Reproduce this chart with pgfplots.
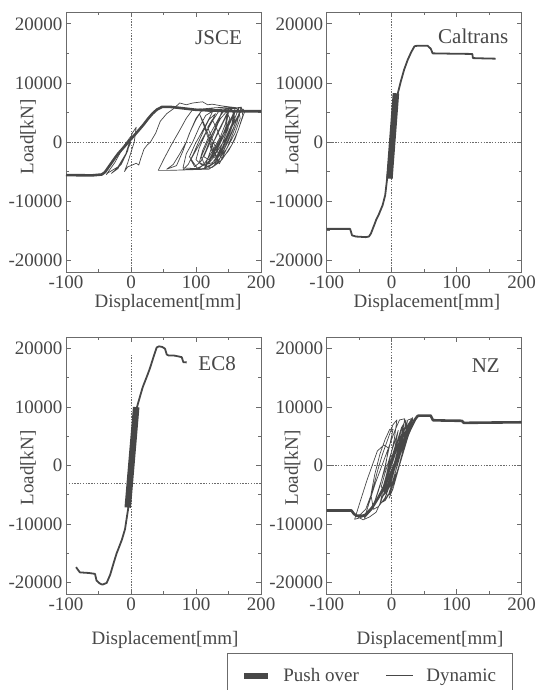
\documentclass[border=0pt]{standalone}
\usepackage{pgfplots}
\pgfplotsset{compat=1.18}
\usepackage{fontspec}
\setmainfont{Liberation Serif}
\definecolor{ink}{gray}{0.28}
\definecolor{axc}{gray}{0.42}
\tikzset{tag/.style={font=\fontsize{21}{24}\selectfont, text=ink, anchor=east}}
\pgfplotsset{
  panel/.style={
    scale only axis, width=195pt,
    xmin=-100, xmax=200, ymin=-22000, ymax=22000,
    xtick={-100,0,100,200}, ytick={-20000,-10000,0,10000,20000},
    minor xtick={-50,50,150}, minor ytick={-15000,-5000,5000,15000},
    tick align=inside, major tick length=5pt, minor tick length=3pt,
    scaled y ticks=false, scaled x ticks=false,
    /pgf/number format/1000 sep={},
    /pgf/number format/assume math mode=true,
    tick label style={font=\fontsize{19}{22}\selectfont, text=ink},
    label style={font=\fontsize{19}{22}\selectfont, text=ink},
    axis line style={axc, line width=0.9pt},
    every tick/.style={axc, line width=0.8pt},
    xlabel={Displacement[mm]}, ylabel={Load[kN]},
    clip=true,
  },
  zline/.style={axc, line width=0.6pt, dash pattern=on 1.4pt off 1.4pt, forget plot},
  push/.style={ink, line width=2.6pt, line join=round, forget plot},
  band/.style={ink, line width=6.5pt, forget plot},
  dyn/.style={ink, line width=0.7pt, line join=round, forget plot},
}
\begin{document}
\begin{tikzpicture}[x=1pt,y=1pt]
\useasboundingbox (0,0) rectangle (539,690);

% ---------------- JSCE ----------------
\begin{axis}[panel, height=260pt, at={(66pt,418pt)}, anchor=south west,
  xlabel style={inner sep=0pt, anchor=north, at={(axis description cs:0.523,-0.085)}},
  ylabel style={anchor=center, at={(axis description cs:-0.195,0.519)}}]
\addplot[zline] coordinates {(-100,0) (200,0)};
\addplot[zline] coordinates {(0,-22000) (0,22000)};
\addplot[dyn] coordinates {
(0,0) (-8,-2000) (-20,-4200) (-35,-5200) (-38,-5500) (-25,-3500) (-10,-500) (0,1000)
(-5,-1500) (-15,-3800) (-30,-5300) (-20,-4500) (-8,-2000) (2,1500) (8,2500) (5,0)
(-5,-3500) (-10,-5000) (-5,-4200) (0,-4000) (8,-3600) (12,-3900) (15,-2800) (20,-1200)
(25,-500) (30,0) (38,1500) (45,3500) (55,4800) (65,5600) (75,6600) (85,6300) (95,6600)
(110,6800) (118,6300) (125,6400) (140,6100) (155,5900) (170,5700) (172,4500) (165,2000)
(155,-500) (140,-3000) (120,-4600) (90,-4700) (60,-4800) (42,-4800) (50,-3000) (62,-500)
(75,2000) (85,4000) (95,5500) (110,5600) (130,5800) (150,5900) (160,5600) (155,3000)
(145,500) (130,-2000) (115,-3800) (100,-4500) (80,-4400) (85,-2000) (95,0) (105,2500)
(115,4500) (130,5500) (150,5700) (165,5800) (168,4000) (160,1500) (148,-1000) (135,-3000)
(120,-4200) (105,-3500) (110,-1500) (120,1000) (130,3000) (140,5000) (155,5500) (160,4000)
(152,1500) (140,-1500) (125,-3500) (110,-4000) (100,-3000) (105,-1000) (115,1500)
(125,3500) (135,5200) (150,5600) (170,5900) (165,4500) (155,2500) (145,0) (135,-2000)
(128,-3500) (115,-4300) (108,-2500) (118,0) (128,2000) (138,4000) (150,5500) (145,3000)
(138,1000) (128,-1000) (120,-2500) (112,-3800) (103,-4600) (90,-2500) (98,-500) (108,1500)
(118,3500) (125,5000) (110,5500) (100,4000) (92,2000) (85,0) (75,-2000) (65,-3800)
(55,-4600) (70,-4000) (80,-1500) (90,1500) (100,3800) (108,5200) (122,5600) (140,5400)
(135,3500) (128,1500) (120,-500) (112,-2500) (120,-3000) (130,-1000) (140,1000) (150,3000)
(158,5000) (165,5500) (158,3500) (150,1500) (142,-500) (135,-2500) (142,-1500) (150,500)
(158,2500) (165,4500) (172,5600) (175,5200) (168,3000) (160,500) (150,-1500) (140,-2800)
(132,-1500) (125,500) (118,2500) (125,3800) (132,2200) (138,500) (145,2000) (152,4000)
(145,5600) (138,4500) (130,2500) (122,500) (115,-1500) (108,-3200) (98,-4200) (92,-3000)
(102,-1000) (112,1000) (122,3000) (130,4800) (120,3800) (112,2000) (104,0) (96,-2000)
(88,-3800) (80,-4700) (95,-4600) (110,-4500) (125,-4300) (135,-3500) (128,-2500) (122,-800)
(130,600) (137,2200) (144,3800) (150,5000) (146,2600) (140,800) (133,-800) (126,-2200)
(119,-3600) (126,-2800) (133,-1200) (140,400) (147,2000) (154,3600) (160,5200) (156,3000)
(149,1000) (142,-800) (135,-2400) (128,-4000) (135,-3200) (142,-1600) (149,0) (156,1800)
(162,3600) (168,5400) (163,3200) (156,1200) (149,-700) (142,-2300) (136,-3700) (130,-2000)
(124,-200) (118,1500) (112,3200) (106,4600) (112,2800) (118,900) (124,-900) (131,-2600)
(138,-1000) (144,800) (150,2400) (142,1400) (134,-400) (127,-1800) (120,-3300) (113,-4400)
(120,-2200) (127,0) (134,1800) (141,3300) (147,4700) (153,5600) (160,5700) (166,5500)
};
\addplot[push] coordinates {
(-100,-5600) (-60,-5650) (-45,-5500) (-40,-5100) (-33,-4000) (-26,-2900) (-20,-2000)
(-12,-1000) (-4,0) (4,1000) (12,2000) (19,2900) (26,3900) (33,4800) (40,5500) (48,5950)
(60,5950) (80,5700) (100,5450) (130,5300) (160,5200) (200,5200)};
\node[tag] at (axis cs:176,17600) {JSCE};
\end{axis}

% ---------------- Caltrans ----------------
\begin{axis}[panel, height=260pt, at={(326.7pt,418pt)}, anchor=south west,
  xlabel style={inner sep=0pt, anchor=north, at={(axis description cs:0.514,-0.085)}},
  ylabel style={anchor=center, at={(axis description cs:-0.173,0.519)}}]
\addplot[zline] coordinates {(-100,0) (200,0)};
\addplot[zline] coordinates {(0,-22000) (0,22000)};
\addplot[push, line width=1.8pt] coordinates {
(-100,-14700) (-64,-14700) (-61,-15800) (-55,-16000) (-40,-16100) (-35,-16000) (-32,-15500)
(-26,-13800) (-24,-13200) (-20,-12300) (-14,-10700) (-10,-9000) (-7,-6150) (0,600)
(9,8080) (14,10240) (19,12200) (24.6,13900) (30,15200) (35,16200) (40,16300) (55,16300)
(60,15800) (63,15000) (90,14950) (124,14900) (125,14200) (140,14150) (160,14100)};
\addplot[band] coordinates {(-3.5,-6200) (6.5,8250)};
\node[tag] at (axis cs:184.6,17860) {Caltrans};
\end{axis}

% ---------------- EC8 ----------------
\begin{axis}[panel, height=257pt, at={(66pt,96pt)}, anchor=south west,
  xlabel style={inner sep=0pt, anchor=north, at={(axis description cs:0.508,-0.144)}},
  ylabel style={anchor=center, at={(axis description cs:-0.195,0.49)}}]
\addplot[zline] coordinates {(-100,-3000) (200,-3000)};
\addplot[zline] coordinates {(0,-22000) (0,18900)};
\addplot[push, line width=1.8pt] coordinates {
(-84.6,-17400) (-80,-18100) (-78.5,-18300) (-65,-18400) (-55.4,-18550) (-53,-19700)
(-48,-20200) (-44,-20400) (-37.4,-20100) (-32,-18700) (-27,-16800) (-22,-15000)
(-19.5,-14300) (-14,-12700) (-9.2,-10900) (-4.1,-7200) (2,1500) (8.7,9800) (13.8,11800)
(18,13400) (21.5,14400) (25,15400) (29,16600) (35,18700) (39.5,20200) (43,20400)
(48,20300) (52.3,20000) (55,19000) (57.4,18850) (65,18850) (72,18700) (78,18550)
(80.5,17700) (85.7,17650)};
\addplot[band] coordinates {(-5,-7200) (8,10000)};
\node[tag] at (axis cs:166.6,17450) {EC8};
\end{axis}

% ---------------- NZ ----------------
\begin{axis}[panel, height=257pt, at={(326.7pt,96pt)}, anchor=south west,
  xlabel style={inner sep=0pt, anchor=north, at={(axis description cs:0.53,-0.144)}},
  ylabel style={anchor=center, at={(axis description cs:-0.175,0.49)}},
  legend style={at={(axis description cs:-0.5113,-0.2296)}, anchor=north west,
    draw=axc, fill=white, line width=0.8pt, legend columns=2,
    font=\fontsize{19}{22}\selectfont, text=ink,
    inner xsep=14pt, inner ysep=13pt,
    /tikz/every even column/.append style={column sep=25pt}},
  legend cell align=left]
\addplot[zline] coordinates {(-100,0) (200,0)};
\addplot[zline] coordinates {(0,-22000) (0,22000)};
\addplot[dyn] coordinates {
(0,0) (10,3500) (18,6000) (25,7800) (30,8000) (27,6000) (18,2500) (8,-1500) (-2,-4500)
(-10,-6000) (-18,-6500) (-12,-3500) (-3,0) (8,4000) (15,6500) (22,7800) (18,5000)
(10,1500) (0,-2500) (-10,-5500) (-20,-7000) (-28,-7500) (-32,-5000) (-26,-1500)
(-18,2000) (-10,4500) (-3,6200) (2,6200) (-3,3500) (-10,0) (-18,-3500) (-28,-7000)
(-38,-8500) (-50,-9000) (-57,-9200) (-48,-6000) (-38,-2500) (-30,0) (-22,2500)
(-12,3500) (-5,3000) (-10,-500) (-20,-4000) (-30,-7500) (-42,-9000) (-35,-6500)
(-25,-3000) (-15,0) (-5,3000) (5,6000) (12,7800) (20,8000) (15,4500) (8,1500) (0,-2000)
(-8,-4500) (-15,-5500) (-5,-3000) (5,500) (15,4000) (25,7000) (32,8200) (28,6000)
(20,3000) (12,0) (5,-2000) (-5,-4000) (-12,-6000) (-5,-5000) (2,-2500) (10,500)
(20,4500) (28,7500) (22,5500) (12,2000) (3,-1000) (-5,-3500) (-12,-5000) (-8,-2000)
(0,1000) (8,3500) (14,6000) (10,3000) (3,0) (-4,-2500) (-10,-4000) (-4,-1000) (4,2000)
(12,5000) (18,7000) (14,4000) (6,1000) (-2,-2000) (-8,-3500) (-16,-6000) (-24,-8000)
(-34,-8800) (-44,-9300) (-52,-8800) (-40,-7500) (-30,-4500) (-22,-1000) (-14,2000)
(-6,4500) (2,7000) (8,7800) (4,4500) (-2,1500) (-8,-1500) (-14,-4000) (-6,-2500)
(2,-500) (10,2500) (18,5500) (24,7500) (20,5000) (14,2500) (8,0) (2,-3000) (-3,-5000)
(0,-3500) (6,-1000) (12,1500) (20,4000) (26,6500) (30,7800) (24,4800) (16,1800) (9,-800)
(2,-3200) (-6,-5200) (-12,-4200) (-6,-1800) (1,600) (8,3000) (15,5200) (10,2400) (3,-300)
(-4,-2800) (-11,-4800) (-16,-3600) (-10,-1200) (-3,1400) (4,3800) (10,6000) (5,3200)
(-2,700) (-9,-2000) (-15,-4400) (-9,-3000) (-2,-600) (5,1800) (12,4200) (18,6400)
(13,3600) (7,1200) (0,-1500) (-7,-4000) (-1,-2400) (6,200) (13,2600) (20,5000) (26,7200)
(21,4300) (15,1600) (9,-1000) (3,-3600) (-4,-5600) (2,-4000) (8,-1600) (14,800) (21,3400)
(28,6200) (33,8000)};
\addplot[push] coordinates {
(-100,-7700) (-62,-7700) (-58,-8300) (-54,-8600) (-44,-8600) (-40,-8400) (-30,-7200)
(-20,-5400) (-10,-3300) (0,-1000) (10,1600) (20,4200) (30,6600) (36,7900) (40,8500)
(45,8550) (60,8550) (63.5,7750) (80,7700) (108,7650) (111,7300) (150,7350) (200,7400)};
\node[tag] at (axis cs:171.7,17160) {NZ};
\addlegendimage{legend image code/.code={\draw[ink, line width=6pt] (0pt,0pt) -- (24pt,0pt); \path[draw=none] (0pt,0pt) -- (37pt,0pt);}}
\addlegendentry{Push over}
\addlegendimage{legend image code/.code={\draw[ink, line width=1pt] (0pt,0pt) -- (27pt,0pt); \path[draw=none] (0pt,0pt) -- (38pt,0pt);}}
\addlegendentry{Dynamic\hspace{22pt}}
\end{axis}
\end{tikzpicture}
\end{document}
